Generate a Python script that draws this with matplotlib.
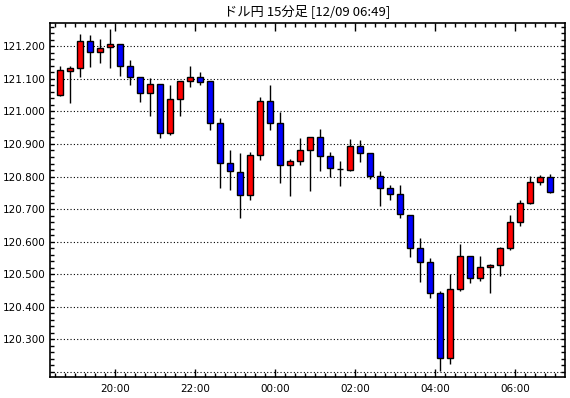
import matplotlib
matplotlib.use("Agg")
import matplotlib.pyplot as plt
import numpy as np
from matplotlib.ticker import MultipleLocator, FixedLocator, FuncFormatter

plt.rcParams['font.family'] = ['Noto Sans CJK JP', 'DejaVu Sans']

title = "ドル円 15分足 [12/09 06:49]"
start_time = "18:30"
opens = [121.050, 121.125, 121.132, 121.215, 121.182, 121.197, 121.206, 121.139, 121.105, 121.056,
         121.083, 120.933, 121.037, 121.093, 121.105, 121.093, 120.964, 120.841, 120.813, 120.742,
         120.865, 121.031, 120.964, 120.835, 120.847, 120.881, 120.921, 120.862, 120.823, 120.821,
         120.893, 120.871, 120.801, 120.764, 120.745, 120.683, 120.580, 120.537, 120.441, 120.242,
         120.454, 120.555, 120.488, 120.521, 120.527, 120.580, 120.659, 120.718, 120.782, 120.798]
highs = [121.139, 121.139, 121.238, 121.235, 121.222, 121.253, 121.206, 121.158, 121.106, 121.102,
         121.083, 121.081, 121.093, 121.140, 121.121, 121.093, 120.980, 120.882, 120.871, 120.875,
         121.043, 121.081, 120.999, 120.853, 120.917, 120.921, 120.946, 120.876, 120.848, 120.914,
         120.911, 120.871, 120.817, 120.773, 120.773, 120.683, 120.610, 120.551, 120.448, 120.500,
         120.593, 120.555, 120.555, 120.530, 120.583, 120.682, 120.727, 120.803, 120.805, 120.807]
lows = [121.048, 121.027, 121.107, 121.137, 121.150, 121.134, 121.110, 121.082, 121.028, 120.987,
        120.919, 120.929, 120.987, 121.076, 121.082, 120.943, 120.766, 120.759, 120.672, 120.729,
        120.852, 120.944, 120.781, 120.741, 120.835, 120.755, 120.818, 120.800, 120.772, 120.818,
        120.846, 120.792, 120.710, 120.727, 120.674, 120.552, 120.477, 120.426, 120.204, 120.223,
        120.449, 120.474, 120.480, 120.443, 120.496, 120.573, 120.649, 120.715, 120.773, 120.750]
closes = [121.127, 121.132, 121.215, 121.182, 121.194, 121.207, 121.139, 121.105, 121.056, 121.083,
          120.933, 121.037, 121.093, 121.105, 121.091, 120.964, 120.841, 120.816, 120.742, 120.865,
          121.031, 120.964, 120.835, 120.847, 120.881, 120.921, 120.862, 120.825, 120.823, 120.893,
          120.871, 120.801, 120.764, 120.745, 120.684, 120.580, 120.537, 120.441, 120.242, 120.454,
          120.555, 120.488, 120.521, 120.527, 120.580, 120.659, 120.718, 120.782, 120.798, 120.753]

n = len(opens)
x = np.arange(n)
o = np.array(opens); c = np.array(closes); h = np.array(highs); l = np.array(lows)

fig = plt.figure(figsize=(5.70, 3.98), dpi=100)
fig.patch.set_facecolor('white')
ax = fig.add_axes([49.5/570, 21/398, 515/570, 354.5/398])

ax.set_ylim(120.1843, 121.2731)
ax.set_xlim(-1.05, 50.45)
ax.yaxis.set_major_locator(MultipleLocator(0.1))
ax.yaxis.set_minor_locator(MultipleLocator(0.02))
ax.yaxis.set_major_formatter(FuncFormatter(lambda v, p: f"{v:.3f}" if v > 120.25 else ""))
ax.grid(axis='y', which='major', color='black', linestyle=(0, (1, 2)), linewidth=0.8, zorder=1)

ax.vlines(x, l, h, color='black', linewidth=1.0, zorder=2)
up = c >= o
colors = np.where(up, '#ff0000', '#0000ff')
bottoms = np.minimum(o, c)
heights = np.maximum(np.abs(c - o), 0.0005)
ax.bar(x, heights, bottom=bottoms, width=0.62, color=colors, edgecolor='black',
       linewidth=1.0, zorder=3)

sh, sm = map(int, start_time.split(':'))
mins = [(sh * 60 + sm + 15 * i) % 1440 for i in range(n)]
major_pos = [i - 0.5 for i, m in enumerate(mins) if m % 120 == 0]
major_lab = [f"{mins[i]//60:02d}:00" for i, m in enumerate(mins) if m % 120 == 0]
ax.xaxis.set_major_locator(FixedLocator(major_pos))
ax.set_xticklabels(major_lab)
ax.xaxis.set_minor_locator(FixedLocator([i - 0.5 for i in range(n + 1)]))

ax.tick_params(axis='both', which='both', direction='in', top=True, right=True,
               colors='black', labelsize=7.5)
ax.tick_params(axis='x', which='major', length=6, width=1, pad=5)
ax.tick_params(axis='x', which='minor', length=3, width=1)
ax.tick_params(axis='y', which='major', length=3, width=1, pad=3)
ax.tick_params(axis='y', which='minor', length=3, width=1)
for lab in ax.get_xticklabels() + ax.get_yticklabels():
    lab.set_family('DejaVu Sans')

for s in ax.spines.values():
    s.set_linewidth(1.2)
    s.set_color('black')

fig.text((49.5 + 515/2) / 570, 1 - 11/398, title, ha='center', va='center', fontsize=9.5)

fig.savefig("out.png", dpi=100, facecolor='white')
